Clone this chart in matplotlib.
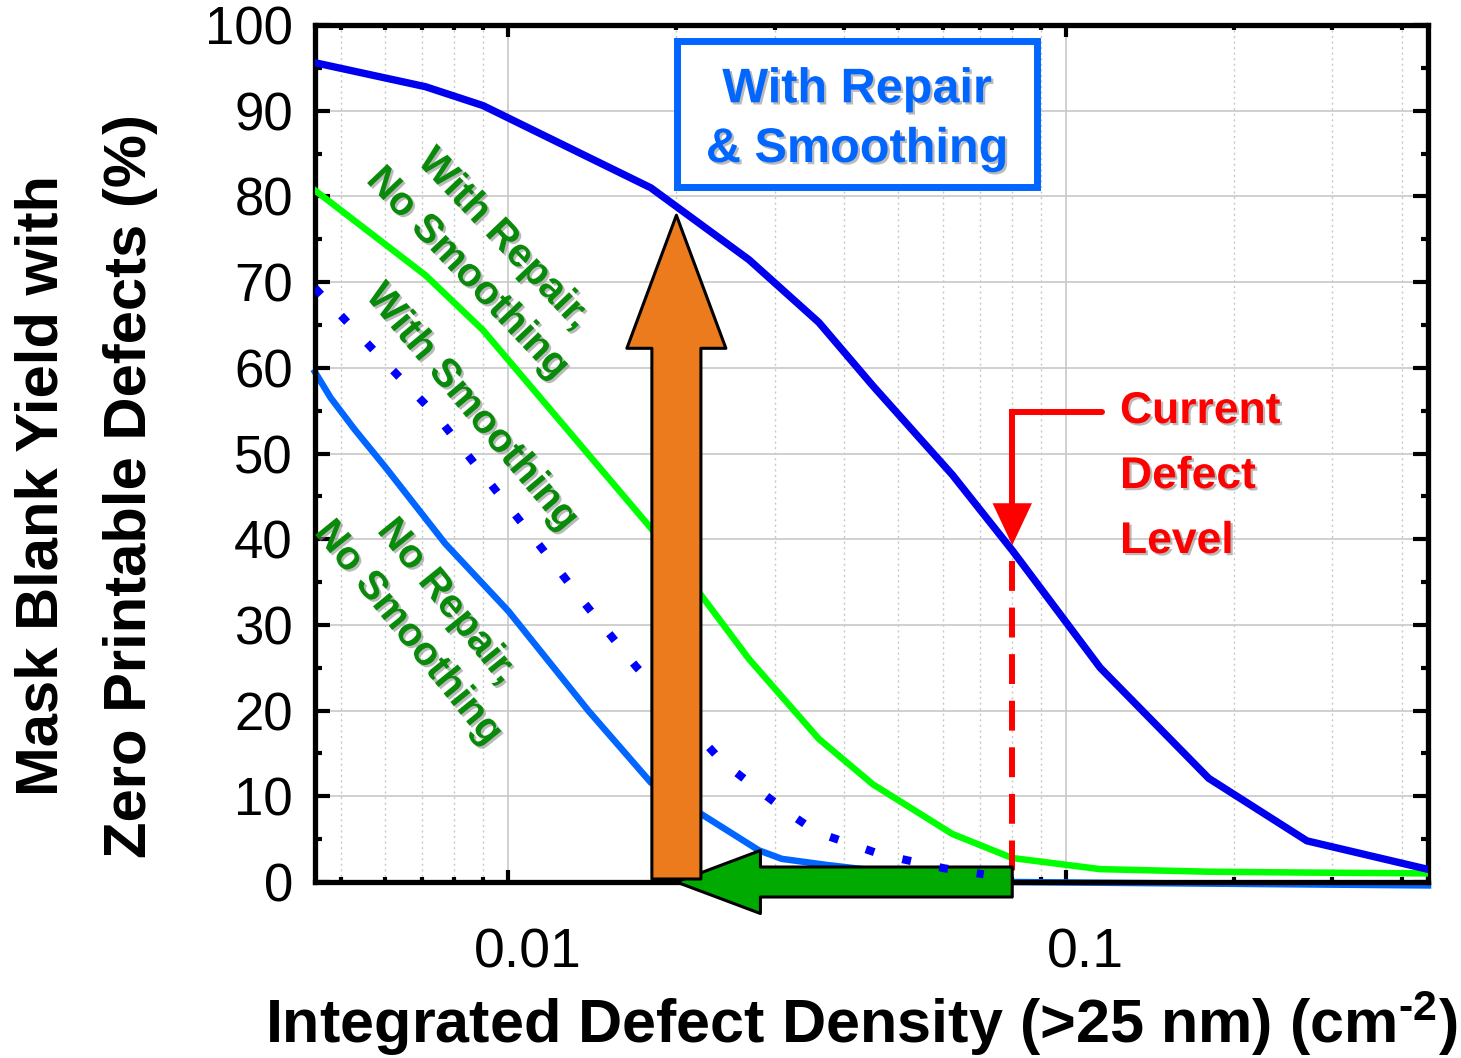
import numpy as np
import matplotlib
matplotlib.use('Agg')
import matplotlib.pyplot as plt
from matplotlib.patches import FancyArrowPatch, Rectangle, ArrowStyle
from matplotlib.path import Path
import matplotlib.patheffects as pe
from matplotlib.ticker import FixedLocator, NullFormatter, MultipleLocator, LogLocator
from matplotlib.transforms import ScaledTranslation

plt.rcParams['font.family'] = ['Liberation Sans', 'DejaVu Sans']
plt.rcParams['mathtext.fontset'] = 'custom'
plt.rcParams['mathtext.rm'] = 'Liberation Sans:bold'
plt.rcParams['mathtext.bf'] = 'Liberation Sans:bold'
plt.rcParams['mathtext.default'] = 'rm'

# ---------------- data ----------------
# With Repair & Smoothing (solid dark blue)
x_rep_smooth = [0.0045, 0.0071, 0.009, 0.018, 0.027, 0.036, 0.045, 0.0625, 0.08, 0.115, 0.18, 0.27, 0.45]
y_rep_smooth = [95.6, 92.8, 90.6, 81.0, 72.6, 65.3, 57.9, 47.5, 38.7, 25.0, 12.1, 4.8, 1.4]
# With Repair, No Smoothing (bright green)
x_rep = [0.0045, 0.0071, 0.009, 0.018, 0.027, 0.036, 0.045, 0.0625, 0.08, 0.115, 0.18, 0.27, 0.45]
y_rep = [80.7, 70.8, 64.4, 41.3, 26.0, 16.7, 11.4, 5.6, 2.8, 1.5, 1.2, 1.1, 1.0]
# With Smoothing (dotted blue)
x_smooth = [0.0045, 0.0059, 0.0075, 0.0092, 0.0113, 0.0137, 0.0169, 0.0241, 0.0314, 0.0357, 0.0466, 0.0604, 0.0711]
y_smooth = [69.3, 61.2, 54.1, 46.8, 39.5, 32.5, 25.2, 14.1, 8.3, 5.8, 3.2, 1.6, 0.9]
# No Repair, No Smoothing (light blue)
x_none = [0.0045, 0.0048, 0.0053, 0.0060, 0.0077, 0.0100, 0.0139, 0.0180, 0.0222, 0.0281, 0.0309, 0.0371, 0.0501, 0.0796, 0.445]
y_none = [59.5, 56.5, 52.8, 48.5, 39.5, 31.6, 20.0, 11.6, 7.9, 3.7, 2.7, 2.0, 1.0, 0.0, -0.4]

current_level = 0.08      # current defect level (cm^-2)
target_level = 0.02       # target defect level
target_yield = 77.8       # yield reached at target with repair & smoothing

xtick_vals = [0.01, 0.1]
xtick_labels = ['0.01', '0.1']
ytick_vals = list(range(0, 101, 10))

# ---------------- figure ----------------
W, H = 1461, 1058
fig = plt.figure(figsize=(W / 100, H / 100), dpi=100)
L, R, B, T = 315, 1428, 882, 25
ax = fig.add_axes([L / W, 1 - B / H, (R - L) / W, (B - T) / H])


def fx(px):
    return px / W


def fy(py):
    return 1 - py / H


ax.set_xscale('log')
ax.set_xlim(0.0045, 0.445)
ax.set_ylim(0, 100)

ax.xaxis.set_major_locator(FixedLocator(xtick_vals))
ax.xaxis.set_minor_locator(LogLocator(base=10, subs=np.arange(2, 10)))
ax.xaxis.set_minor_formatter(NullFormatter())
ax.set_xticklabels(xtick_labels)
ax.set_yticks(ytick_vals)
ax.yaxis.set_minor_locator(MultipleLocator(5))

ax.tick_params(which='both', direction='in', top=True, right=True, color='black')
ax.xaxis.set_tick_params(which='major', length=8.5, width=3, labelsize=40, pad=33)
ax.xaxis.set_tick_params(which='minor', length=3.5, width=3)
ax.yaxis.set_tick_params(which='major', length=11, width=3, labelsize=38, pad=16)
ax.yaxis.set_tick_params(which='minor', length=5, width=3)

for lab in ax.get_xticklabels():
    lab.set_transform(lab.get_transform() + ScaledTranslation(19 / 100, 0, fig.dpi_scale_trans))

for sp in ax.spines.values():
    sp.set_linewidth(3.8)
    sp.set_color('black')

ax.set_axisbelow(True)
ax.grid(which='major', axis='both', color='#C8C8C8', lw=1.2, ls='-')
ax.grid(which='minor', axis='x', color='#C8C8C8', lw=1.0, ls=(0, (1.5, 2.5)))

# curves
ax.plot(x_none, y_none, color='#0066FF', lw=4.7, zorder=2.2, clip_on=False)
ax.plot(x_rep, y_rep, color='#00FF00', lw=4.7, zorder=3)
ax.plot(x_smooth, y_smooth, color='#0000FF', lw=5.8, ls=(0, (1.1, 3.6)),
        dash_capstyle='butt', zorder=6)
ax.plot(x_rep_smooth, y_rep_smooth, color='#0000EE', lw=5.3, zorder=8)

# current defect level: dashed red line + elbow arrow
ax.plot([current_level, current_level], [37.5, 0], color='red', lw=4.3,
        ls=(0, (5, 2.8)), dash_capstyle='butt', zorder=4)
red_arrow = FancyArrowPatch(path=Path([(0.116, 54.8), (current_level, 54.8), (current_level, 39.3)]),
                            arrowstyle=ArrowStyle('-|>', head_length=23, head_width=10.8),
                            mutation_scale=1, transform=ax.transData, color='red', lw=4.3,
                            joinstyle='miter', zorder=9)
ax.add_patch(red_arrow)

# green horizontal arrow (defect reduction)
green_arrow = FancyArrowPatch(posA=(current_level, 0), posB=(target_level, 0),
                              arrowstyle=ArrowStyle.Simple(head_length=60.5, head_width=45.4, tail_width=21.6),
                              mutation_scale=1, shrinkA=0, shrinkB=0, fc='#00AA00', ec='black',
                              lw=2.2, zorder=5, clip_on=False, transform=ax.transData)
ax.add_patch(green_arrow)

# orange vertical arrow (yield gain)
orange_arrow = FancyArrowPatch(posA=(target_level, 0.35), posB=(target_level, target_yield),
                               arrowstyle=ArrowStyle.Simple(head_length=95.8, head_width=71.3, tail_width=35.3),
                               mutation_scale=1, shrinkA=0, shrinkB=0, fc='#EC7B1E', ec='black',
                               lw=2.2, zorder=7, clip_on=False, transform=ax.transData)
ax.add_patch(orange_arrow)

shadow = [pe.withSimplePatchShadow(offset=(1.6, -1.6), shadow_rgbFace='0.55', alpha=0.6)]

# boxed label
box = Rectangle((fx(676.5), fy(186.5)), (1036.5 - 676.5) / W, (186.5 - 40.5) / H,
                transform=fig.transFigure, fc='white', ec='#0066FF', lw=5, zorder=5)
fig.add_artist(box)
fig.text(fx(857), fy(162), 'With Repair\n& Smoothing', ha='center', va='baseline',
         fontsize=35, fontweight='bold', color='#0066FF', linespacing=1.42,
         multialignment='center', path_effects=shadow, zorder=6)

# red text
for txt, yb in [('Current', 423), ('Defect', 488), ('Level', 553)]:
    fig.text(fx(1120), fy(yb), txt, ha='left', va='baseline', fontsize=32,
             fontweight='bold', color='red', path_effects=shadow, zorder=6)

# green rotated labels
gcol = '#0A8A0A'
for txt, (px, py), rot in [('With Repair,\nNo Smoothing', (486, 256), -46.5),
                           ('With Smoothing', (472, 407), -50),
                           ('No Repair,\nNo Smoothing', (428, 617), -51)]:
    fig.text(fx(px), fy(py), txt, ha='center', va='center', rotation=rot,
             rotation_mode='anchor', fontsize=29, fontweight='bold', color=gcol,
             linespacing=1.4, multialignment='center', path_effects=shadow, zorder=6)

# axis titles
fig.text(fx(58), fy(486), 'Mask Blank Yield with', rotation=90, rotation_mode='anchor',
         ha='center', va='baseline', fontsize=43, fontweight='bold')
fig.text(fx(146), fy(486), 'Zero Printable Defects (%)', rotation=90, rotation_mode='anchor',
         ha='center', va='baseline', fontsize=43, fontweight='bold')
fig.text(fx(861), fy(1043), r'Integrated Defect Density (>25 nm) (cm$^{\text{-}2}$)',
         ha='center', va='baseline', fontsize=44, fontweight='bold')

fig.savefig('out.png', dpi=100)
